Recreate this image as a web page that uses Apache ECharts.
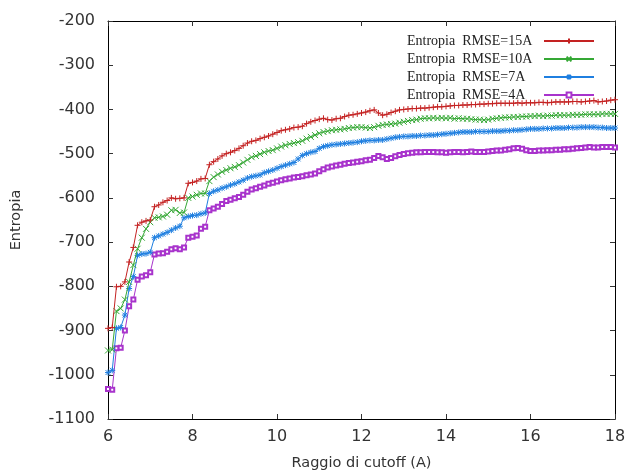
<!DOCTYPE html>
<html>
<head>
<meta charset="utf-8">
<script src="https://cdn.jsdelivr.net/npm/echarts@6/dist/echarts.min.js"></script>
<style>html,body{margin:0;padding:0;background:#fff;}#c{width:625px;height:471px;}</style>
</head>
<body>
<div id="c"></div>
<script>
const cutoff = [6.0,6.1,6.2,6.3,6.4,6.5,6.6,6.7,6.8,6.9,
7.0,7.1,7.2,7.3,7.4,7.5,7.6,7.7,7.8,7.9,
8.0,8.1,8.2,8.3,8.4,8.5,8.6,8.7,8.8,8.9,
9.0,9.1,9.2,9.3,9.4,9.5,9.6,9.7,9.8,9.9,
10.0,10.1,10.2,10.3,10.4,10.5,10.6,10.7,10.8,10.9,
11.0,11.1,11.2,11.3,11.4,11.5,11.6,11.7,11.8,11.9,
12.0,12.1,12.2,12.3,12.4,12.5,12.6,12.7,12.8,12.9,
13.0,13.1,13.2,13.3,13.4,13.5,13.6,13.7,13.8,13.9,
14.0,14.1,14.2,14.3,14.4,14.5,14.6,14.7,14.8,14.9,
15.0,15.1,15.2,15.3,15.4,15.5,15.6,15.7,15.8,15.9,
16.0,16.1,16.2,16.3,16.4,16.5,16.6,16.7,16.8,16.9,
17.0,17.1,17.2,17.3,17.4,17.5,17.6,17.7,17.8,17.9,18.0];

const rmse15 = [-895,-893,-801,-800,-790,-745,-712,-662,-655,-652,
-650,-620,-616,-610,-606,-600,-602,-601,-600,-567,
-565,-562,-557,-556,-525,-518,-512,-505,-500,-497,
-493,-488,-482,-476,-472,-470,-466,-463,-460,-456,
-452,-448,-446,-444,-441,-440,-438,-432,-428,-425,
-422,-420,-423,-424,-421,-420,-416,-413,-412,-410,
-408,-406,-403,-401,-408,-413,-411,-407,-404,-401,
-400,-399,-398,-398,-397,-397,-396,-395,-394,-394,
-393,-392,-391,-391,-390,-390,-389,-389,-388,-388,
-387,-387,-386,-386,-386,-386,-386,-385,-386,-385,
-385,-385,-384,-384,-385,-384,-383,-383,-383,-383,
-382,-382,-383,-382,-381,-380,-383,-382,-381,-379,-378];

const rmse10 = [-945,-943,-856,-850,-830,-790,-752,-715,-690,-670,
-655,-645,-644,-642,-638,-628,-627,-634,-633,-600,
-597,-593,-590,-590,-562,-553,-547,-541,-537,-533,
-530,-526,-520,-514,-508,-505,-501,-497,-494,-492,
-488,-484,-481,-478,-476,-474,-471,-466,-462,-458,
-454,-451,-449,-447,-446,-445,-444,-442,-441,-440,
-440,-441,-442,-440,-437,-435,-434,-433,-432,-430,
-428,-426,-424,-423,-421,-420,-420,-419,-420,-419,
-420,-419,-421,-420,-421,-421,-422,-423,-423,-424,
-423,-421,-420,-419,-418,-418,-417,-417,-416,-416,
-415,-415,-414,-415,-414,-414,-413,-413,-413,-413,
-412,-412,-412,-411,-411,-411,-411,-410,-410,-410,-410];

const rmse7 = [-995,-990,-895,-893,-865,-805,-778,-730,-727,-726,
-723,-690,-686,-682,-678,-673,-668,-664,-645,-642,
-640,-639,-636,-634,-590,-585,-582,-578,-575,-571,
-568,-564,-560,-555,-552,-550,-548,-543,-540,-537,
-533,-529,-526,-523,-520,-512,-504,-500,-497,-495,
-488,-484,-482,-480,-479,-478,-477,-476,-475,-474,
-472,-471,-470,-470,-469,-469,-467,-465,-463,-462,
-461,-461,-460,-460,-459,-459,-458,-458,-457,-456,
-455,-454,-453,-452,-451,-451,-451,-450,-450,-450,
-450,-449,-449,-449,-448,-448,-447,-447,-446,-445,
-444,-444,-444,-443,-443,-443,-442,-442,-442,-441,
-441,-441,-440,-440,-440,-440,-441,-441,-442,-442,-442];

const rmse4 = [-1032,-1034,-940,-939,-900,-845,-830,-785,-778,-775,
-768,-728,-726,-725,-722,-716,-714,-716,-712,-690,
-688,-685,-670,-665,-628,-624,-620,-614,-607,-604,
-601,-598,-593,-586,-581,-578,-575,-572,-568,-566,
-563,-560,-558,-556,-554,-553,-551,-549,-547,-545,
-540,-535,-531,-529,-527,-525,-523,-521,-520,-518,
-517,-515,-514,-510,-505,-508,-512,-510,-506,-503,
-501,-499,-498,-497,-497,-496,-496,-496,-497,-497,
-498,-497,-496,-496,-497,-496,-495,-496,-496,-496,
-495,-494,-493,-493,-491,-490,-488,-487,-489,-492,
-494,-494,-493,-493,-492,-492,-491,-491,-490,-490,
-489,-488,-487,-486,-485,-486,-486,-485,-485,-485,-486];

const seriesNames = ['Entropia  RMSE=15A','Entropia  RMSE=10A','Entropia  RMSE=7A','Entropia  RMSE=4A'];
const seriesColors = ['#c42222','#35a835','#1f7fe0','#a833cc'];
const xTicks = {min: 6, max: 18, interval: 2};
const yTicks = {min: -1100, max: -200, interval: 100};

const plusPath = 'path://M0,5L10,5M5,0L5,10';
const crossPath = 'path://M0,0L10,10M10,0L0,10';
const starPath = 'path://M0,5L10,5M5,0L5,10M1,1L9,9M9,1L1,9';
const symbols = [plusPath, crossPath, starPath, 'emptyRect'];
const allData = [rmse15, rmse10, rmse7, rmse4];

const chart = echarts.init(document.getElementById('c'), null, {renderer: 'canvas'});
const axisCommon = {
  axisLine: {show: true, lineStyle: {color: '#000', width: 1}},
  axisTick: {show: true, inside: true, length: 5, lineStyle: {color: '#333'}},
  splitLine: {show: false}
};
const series = allData.map((d, i) => ({
  name: seriesNames[i],
  type: 'line',
  data: cutoff.map((x, k) => [x, d[k]]),
  symbol: symbols[i],
  symbolSize: i === 3 ? 4 : 6,
  showAllSymbol: true,
  lineStyle: {width: 1, color: seriesColors[i]},
  itemStyle: {color: seriesColors[i], borderColor: seriesColors[i], borderWidth: 1},
  emphasis: {disabled: true},
  animation: false,
  z: 10 - i
}));

chart.setOption({
  animation: false,
  backgroundColor: '#fff',
  grid: {left: 108, right: 10, top: 21, bottom: 52, outerBoundsMode: 'none', containLabel: false},
  legend: {
    orient: 'vertical',
    right: 25,
    top: 29,
    align: 'right',
    itemGap: 4,
    itemWidth: 50,
    itemHeight: 6,
    formatter: name => '{t|' + name + '}',
    textStyle: {
      fontFamily: 'Liberation Serif', fontSize: 14, color: '#222',
      rich: {t: {width: 132, align: 'left', fontFamily: 'Liberation Serif', fontSize: 14, color: '#222'}}
    },
    data: seriesNames
  },
  xAxis: [
    Object.assign({type: 'value', position: 'bottom', min: xTicks.min, max: xTicks.max, interval: xTicks.interval,
      name: 'Raggio di cutoff (A)', nameLocation: 'middle', nameGap: 37,
      nameTextStyle: {fontFamily: 'DejaVu Sans', fontSize: 14.5, color: '#333'},
      axisLabel: {fontFamily: 'DejaVu Sans', fontSize: 16, color: '#333', margin: 10}}, axisCommon),
    Object.assign({type: 'value', position: 'top', min: xTicks.min, max: xTicks.max, interval: xTicks.interval,
      axisLabel: {show: false}}, axisCommon)
  ],
  yAxis: [
    Object.assign({type: 'value', position: 'left', min: yTicks.min, max: yTicks.max, interval: yTicks.interval,
      name: 'Entropia', nameLocation: 'middle', nameGap: 84,
      nameTextStyle: {fontFamily: 'DejaVu Sans', fontSize: 14.5, color: '#333'},
      axisLabel: {fontFamily: 'DejaVu Sans', fontSize: 16, color: '#333', margin: 13, formatter: v => String(v)}}, axisCommon),
    Object.assign({type: 'value', position: 'right', min: yTicks.min, max: yTicks.max, interval: yTicks.interval,
      axisLabel: {show: false}}, axisCommon)
  ],
  series: series
});
</script>
</body>
</html>
